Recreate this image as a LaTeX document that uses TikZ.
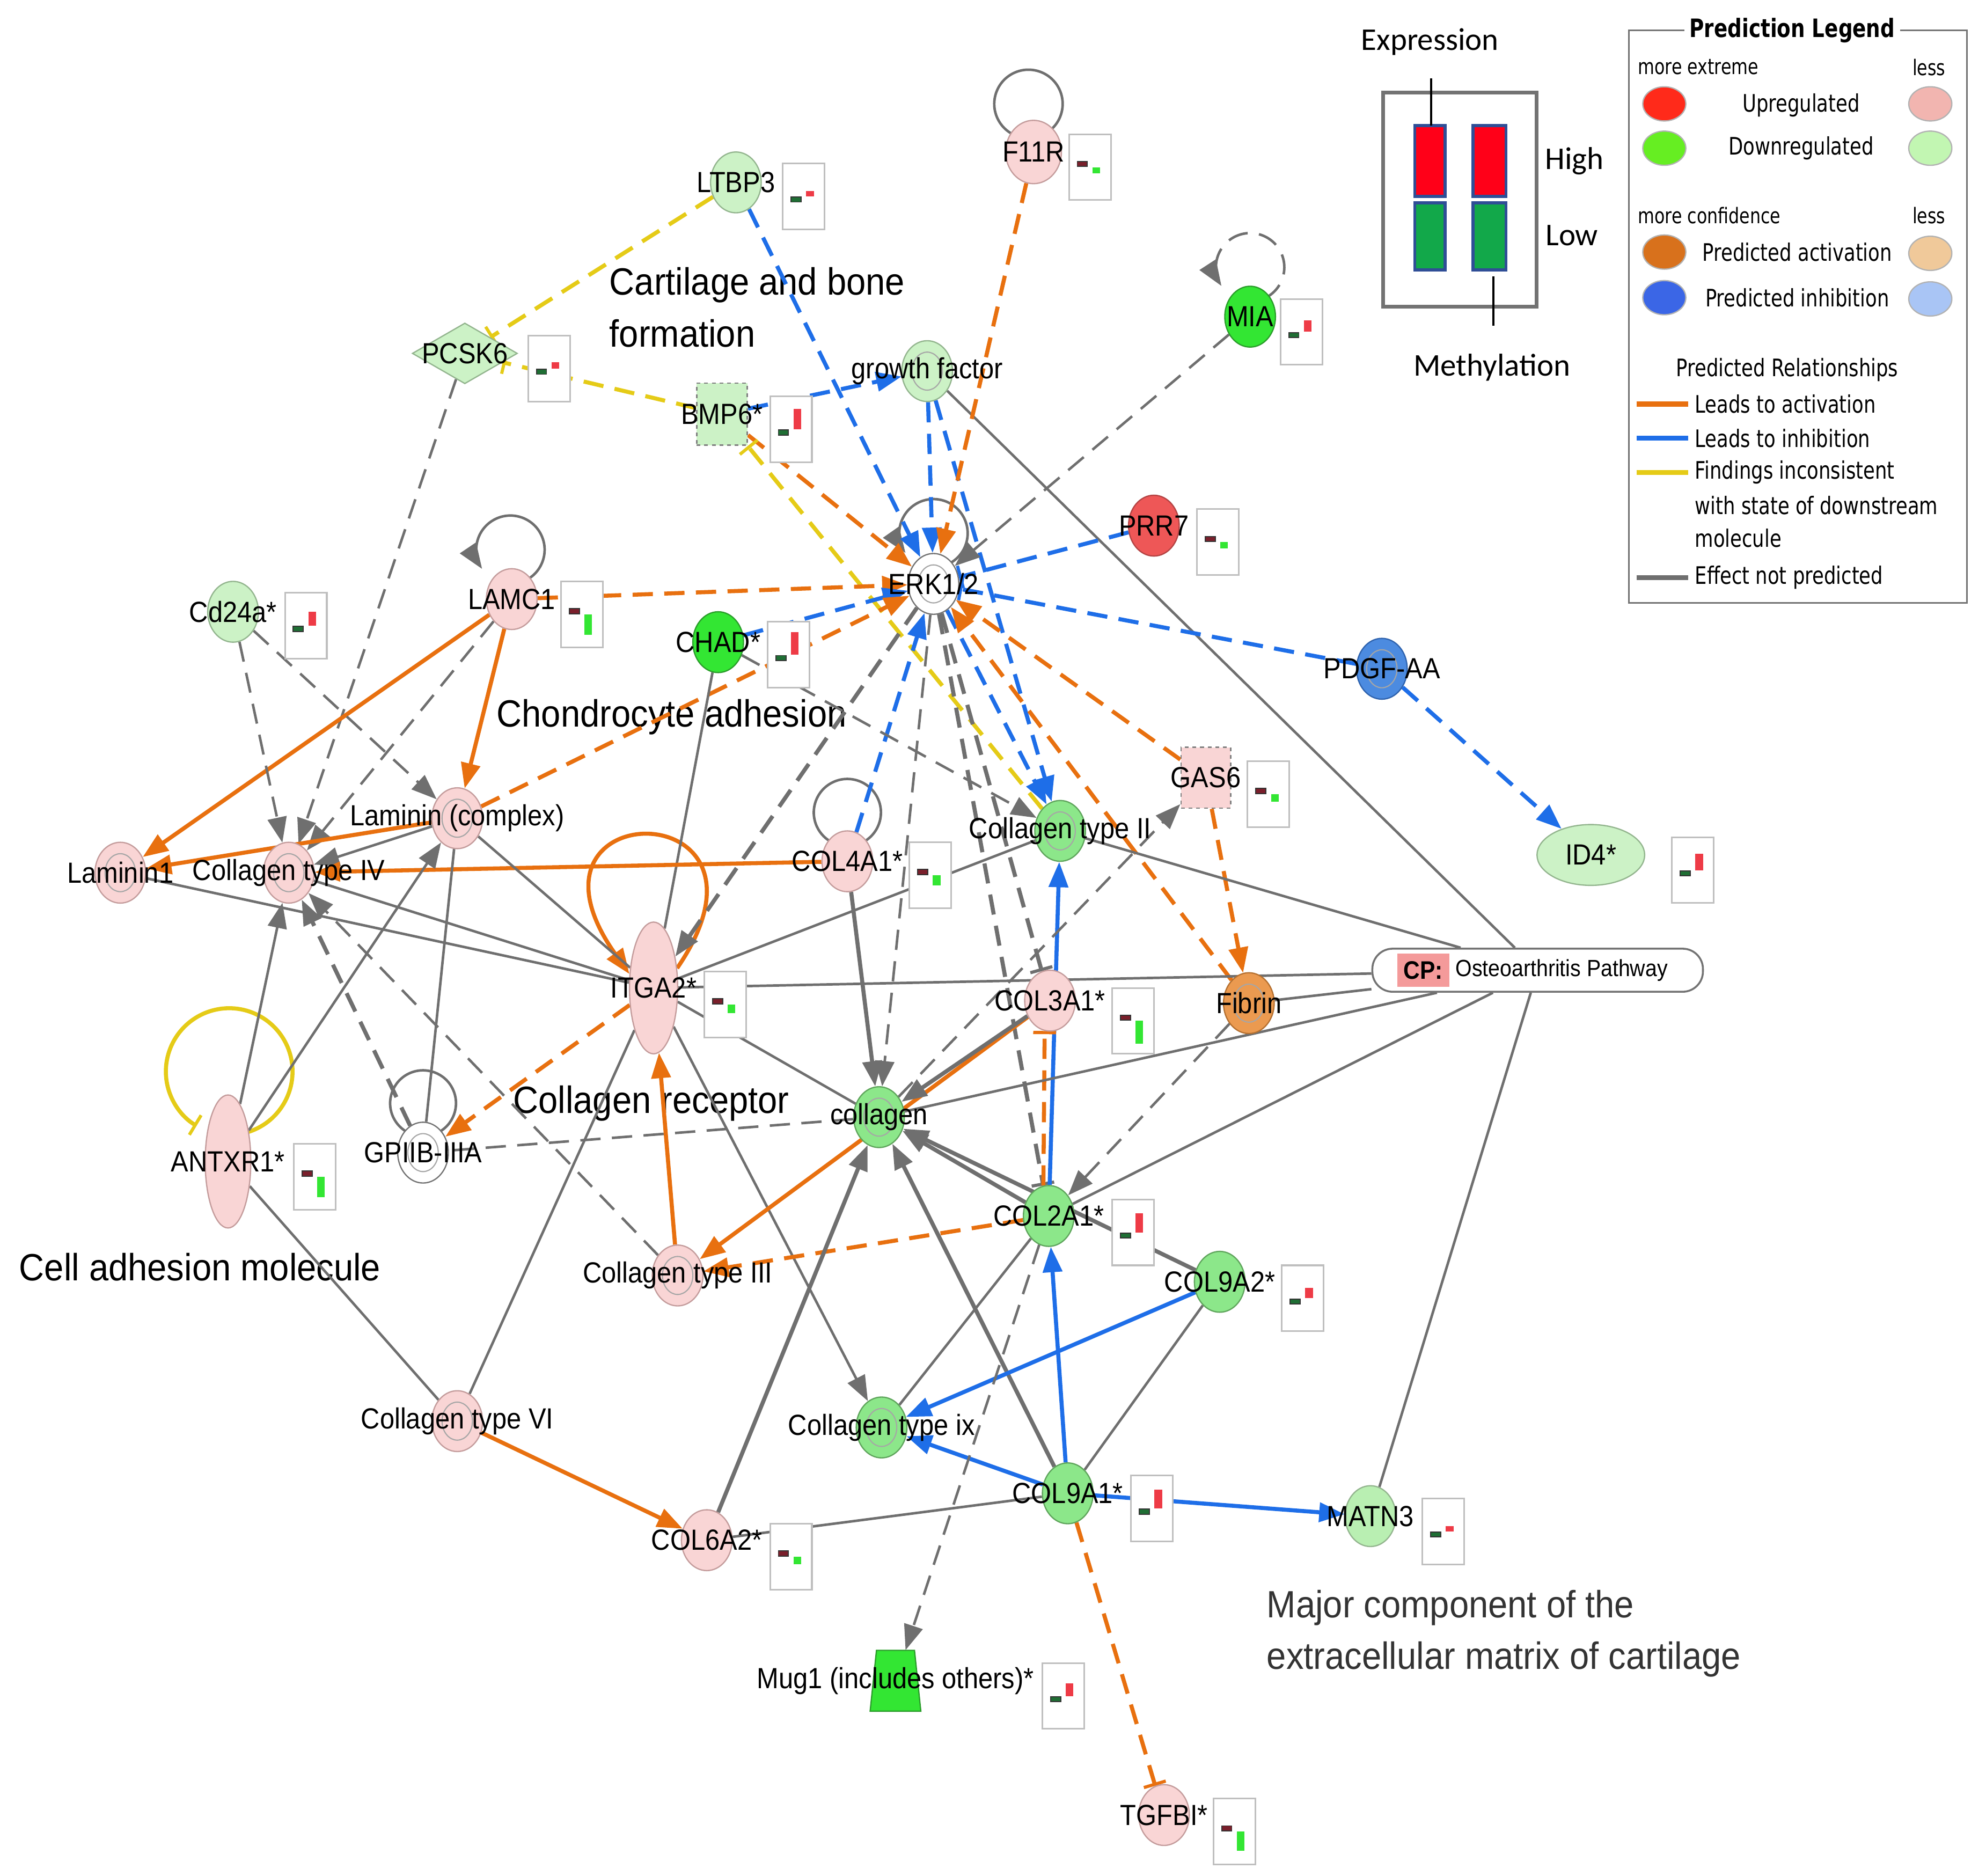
\documentclass[tikz,border=0pt]{standalone}
\usepackage{fontspec}
\setmainfont{Liberation Sans}
\newfontfamily\nfont[FakeStretch=0.9]{Liberation Sans}
\newfontfamily\gfont[FakeStretch=0.92]{Liberation Sans}
\newfontfamily\lfont[FakeStretch=0.79]{DejaVu Sans}
\newfontfamily\cfont{Carlito}
\usetikzlibrary{shapes.geometric,arrows.meta}
\pgfdeclarelayer{back}
\pgfdeclarelayer{edges}
\pgfsetlayers{back,edges,main}
\definecolor{pk}{HTML}{F9D5D5}
\definecolor{pkb}{HTML}{C49C9C}
\definecolor{lg}{HTML}{CCF2C6}
\definecolor{lg2}{HTML}{B9EFB2}
\definecolor{lgb}{HTML}{93B58E}
\definecolor{mg}{HTML}{8CE78A}
\definecolor{mgb}{HTML}{5FA55C}
\definecolor{bgr}{HTML}{33E633}
\definecolor{bgrb}{HTML}{2A9E2A}
\definecolor{rd}{HTML}{EE5757}
\definecolor{rdb}{HTML}{B44444}
\definecolor{bl}{HTML}{4C8BE0}
\definecolor{blb}{HTML}{2F63AE}
\definecolor{orf}{HTML}{EB9A50}
\definecolor{orb}{HTML}{B57030}
\definecolor{eo}{HTML}{E8700F}
\definecolor{eb}{HTML}{1E6EE8}
\definecolor{ey}{HTML}{E5CB17}
\definecolor{eg}{HTML}{6F6F6F}
\definecolor{cpk}{HTML}{F49A9A}
\definecolor{dgr}{HTML}{1F6E34}
\definecolor{drd}{HTML}{7A1F2B}
\definecolor{rbar}{HTML}{EE3B46}
\definecolor{gbar}{HTML}{33E633}
\definecolor{lR}{HTML}{FF2A1A}
\definecolor{lRl}{HTML}{F2B5B0}
\definecolor{lG}{HTML}{66EE22}
\definecolor{lGl}{HTML}{C2F6B2}
\definecolor{lO}{HTML}{D8711C}
\definecolor{lOl}{HTML}{F0C99A}
\definecolor{lB}{HTML}{3B66E6}
\definecolor{lBl}{HTML}{A9C5F5}
\definecolor{xr}{HTML}{FF0018}
\definecolor{xg}{HTML}{12A84A}
\definecolor{xb}{HTML}{2F4E96}
\tikzset{
  every node/.style={inner sep=0pt},
  nd/.style 2 args={ellipse, minimum width=40pt, minimum height=48pt, fill=#1, draw=#2, line width=1pt},
  pkn/.style={nd={pk}{pkb}},
  lgn/.style={nd={lg}{lgb}},
  mgn/.style={nd={mg}{mgb}},
  bgn/.style={nd={bgr}{bgrb}},
  cx/.style={path picture={\draw[line width=0.9pt, draw=black!35] (path picture bounding box.center) ellipse [x radius=12pt, y radius=15pt];}},
  lb/.style={font=\nfont\fontsize{23}{25}\selectfont, text=black},
  bigl/.style={font=\gfont\fontsize{30}{34}\selectfont, text=black},
  legt/.style={font=\lfont\fontsize{19}{21}\selectfont},
  legs/.style={font=\lfont\fontsize{17}{19}\selectfont},
  expt/.style={font=\cfont\fontsize{25}{27}\selectfont},
  arr/.style={-{Triangle[length=20pt,width=15pt]}},
  tbar/.style={-{Bar[width=18pt,line width=2.5pt]}},
  dsh/.style={dash pattern=on 16pt off 9pt},
  eO/.style={draw=eo, line width=3.2pt},
  eB/.style={draw=eb, line width=3.2pt},
  eY/.style={draw=ey, line width=3.2pt},
  eG/.style={draw=eg, line width=2pt},
  eGt/.style={draw=eg, line width=3.2pt},
  cbox/.style={draw=black!25, line width=1.3pt, fill=white},
  legel/.style={ellipse, minimum width=34pt, minimum height=27pt, draw=black!30, line width=1pt}
}
\newcommand{\chartU}[3]{%
  \draw[cbox] (#1,#2) rectangle ++(33,52);
  \draw[draw=black!80, fill=dgr, line width=0.8pt] (#1+6.5,#2+26.5) rectangle ++(8,4);
  \fill[rbar] (#1+18.5,#2+26) rectangle ++(6,-#3);
}
\newcommand{\chartD}[3]{%
  \draw[cbox] (#1,#2) rectangle ++(33,52);
  \draw[draw=black!80, fill=drd, line width=0.8pt] (#1+6.5,#2+21.5) rectangle ++(8,4);
  \fill[gbar] (#1+18.5,#2+26) rectangle ++(6,#3);
}
\begin{document}
\begin{tikzpicture}[x=1pt,y=-1pt]
\useasboundingbox (0,0) rectangle (1568,1481);
\begin{pgfonlayer}{back}
\fill[white] (0,0) rectangle (1568,1481);
\node[bigl, anchor=base west] (t1) at (481,233) {Cartilage and bone};
\node[bigl, anchor=base west] (t2) at (481,274) {formation};
\node[bigl, anchor=base west] (t3) at (392,574) {Chondrocyte adhesion};
\node[bigl, anchor=base west] (t4) at (405,879) {Collagen receptor};
\node[bigl, anchor=base west] (t5) at (15,1011) {Cell adhesion molecule};
\node[bigl, anchor=base west, text=black!80] (t6) at (1000,1277) {Major component of the};
\node[bigl, anchor=base west, text=black!80] (t7) at (1000,1318) {extracellular matrix of cartilage};
\end{pgfonlayer}

% ---------- nodes ----------
\node[lgn, label={[lb]center:LTBP3}] (ltbp3) at (581,144) {};
\node[pkn, minimum width=44pt, minimum height=50pt, label={[lb]center:F11R}] (f11r) at (816,120) {};
\node[bgn, label={[lb]center:MIA}] (mia) at (987,250) {};
\node[diamond, minimum width=83pt, minimum height=48pt, fill=lg, draw=lgb, line width=1pt, label={[lb]center:PCSK6}] (pcsk6) at (367,279) {};
\node[rectangle, minimum width=40pt, minimum height=49pt, fill=lg, draw=black!50, dashed, line width=1.2pt, label={[lb]center:BMP6*}] (bmp6) at (570,327) {};
\node[lgn, cx, label={[lb]center:growth factor}] (gf) at (732,293) {};
\node[nd={rd}{rdb}, label={[lb]center:PRR7}] (prr7) at (911,415) {};
\node[nd={white}{black!55}, cx, label={[lb]center:ERK1/2}] (erk) at (737,461) {};
\node[pkn, label={[lb]center:LAMC1}] (lamc1) at (404,473) {};
\node[lgn, label={[lb]center:Cd24a*}] (cd24a) at (184,483) {};
\node[bgn, label={[lb]center:CHAD*}] (chad) at (567,507) {};
\node[nd={bl}{blb}, cx, label={[lb]center:PDGF-AA}] (pdgf) at (1091,528) {};
\node[rectangle, minimum width=39pt, minimum height=48pt, fill=pk, draw=black!50, dashed, line width=1.2pt, label={[lb]center:GAS6}] (gas6) at (952,614) {};
\node[nd={lg}{lgb}, minimum width=85pt, minimum height=48pt, label={[lb]center:ID4*}] (id4) at (1256,675) {};
\node[pkn, cx, label={[lb]center:Laminin (complex)}] (lamcx) at (361,646) {};
\node[pkn, cx, label={[lb]center:Laminin1}] (lam1) at (95,689) {};
\node[pkn, cx, label={[lb]center:Collagen type IV}] (col4) at (228,689) {};
\node[pkn, label={[lb]center:COL4A1*}] (col4a1) at (669,680) {};
\node[mgn, cx, label={[lb]center:Collagen type II}] (col2) at (837,656) {};
\node[nd={pk}{pkb}, minimum width=38pt, minimum height=104pt, label={[lb]center:ITGA2*}] (itga2) at (516,780) {};
\node[pkn, label={[lb]center:COL3A1*}] (col3a1) at (829,790) {};
\node[nd={orf}{orb}, cx, label={[lb]center:Fibrin}] (fibrin) at (986,792) {};
\node[nd={pk}{pkb}, minimum width=36pt, minimum height=105pt, label={[lb]center:ANTXR1*}] (antxr1) at (180,917) {};
\node[nd={white}{black!55}, cx, label={[lb]center:GPIIB-IIIA}] (gp2b) at (334,910) {};
\node[mgn, cx, label={[lb]center:collagen}] (coll) at (694,882) {};
\node[mgn, label={[lb]center:COL2A1*}] (col2a1) at (828,960) {};
\node[pkn, cx, label={[lb]center:Collagen type III}] (col3) at (535,1007) {};
\node[mgn, label={[lb]center:COL9A2*}] (col9a2) at (963,1012) {};
\node[pkn, cx, label={[lb]center:Collagen type VI}] (col6) at (361,1122) {};
\node[mgn, cx, label={[lb]center:Collagen type ix}] (colix) at (696,1127) {};
\node[mgn, label={[lb]center:COL9A1*}] (col9a1) at (843,1179) {};
\node[nd={lg2}{lgb}, label={[lb]center:MATN3}] (matn3) at (1082,1197) {};
\node[pkn, label={[lb]center:COL6A2*}] (col6a2) at (558,1216) {};
\node[minimum width=40pt, minimum height=48pt] (mug1) at (707,1327) {};
\filldraw[fill=bgr, draw=bgrb, line width=1pt] ([shift={(-15,-24)}]mug1.center) -- ++(30,0) -- ++(5,48) -- ++(-40,0) -- cycle;
\node[lb] (mug1l) at (707,1327) {Mug1 (includes others)*};
\node[pkn, label={[lb]center:TGFBI*}] (tgfbi) at (919,1433) {};

% CP node
\node[draw=black!55, line width=1.5pt, rounded corners=16pt, fill=white, minimum width=261pt, minimum height=34pt] (cp) at (1214,766) {};
\node[fill=cpk, minimum width=41pt, minimum height=26pt, anchor=west, font=\nfont\bfseries\fontsize{20}{22}\selectfont] (cptag) at (1103,766) {CP:};
\node[lb, anchor=west, font=\nfont\fontsize{18.5}{20}\selectfont] (cptext) at (1149,766) {Osteoarthritis Pathway};

% ---------- edges ----------
\begin{pgfonlayer}{edges}
% self loops
\draw[eG] ([shift={(7.4,-13.5)}]f11r.center) arc[start angle=-65, end angle=245, radius=27pt];
\draw[eG,dsh,arr] ([shift={(11.4,-14.5)}]mia.center) arc[start angle=-65, end angle=213, radius=27pt];
\draw[eG,arr] ([shift={(11.4,-15.5)}]erk.center) arc[start angle=-65, end angle=215, radius=27pt];
\draw[eG,arr] ([shift={(10.4,-14.5)}]lamc1.center) arc[start angle=-65, end angle=214, radius=27pt];
\draw[eG] ([shift={(11.2,-14.5)}]col4a1.center) arc[start angle=-65, end angle=245, radius=26.5pt];
\draw[eG] ([shift={(11,-15.4)}]gp2b.center) arc[start angle=-65, end angle=245, radius=26pt];
\draw[eY,tbar] ([shift={(13.9,-22.7)}]antxr1.center) arc[start angle=-75, end angle=239, radius=50pt];
\draw[eO,arr] (itga2.40) .. controls +(96,-140) and +(-102,-144) .. (itga2.150);
% top region
\draw[eB,dsh,arr] (ltbp3) -- (erk);
\draw[eY,dsh,tbar] (ltbp3) -- (pcsk6);
\draw[eY,dsh,tbar] (bmp6) -- (pcsk6);
\draw[eG,dsh,arr] (pcsk6) -- (col4);
\draw[eB,dsh,arr] (bmp6) -- (gf);
\draw[eO,dsh,arr] (bmp6) -- (erk);
\draw[eY,dsh,tbar] (col2) -- (bmp6);
\draw[eB,dsh,arr] (gf) -- (erk);
\draw[eB,dsh,arr] (gf) -- (col2);
\draw[eG] (gf) -- (cp);
\draw[eO,dsh,arr] (f11r) -- (erk);
\draw[eG,dsh,arr] (mia) -- (erk);
\draw[eB,dsh,tbar] (prr7) -- (erk);
\draw[eB,dsh,tbar] (pdgf) -- (erk);
\draw[eB,dsh,arr] (pdgf) -- (id4);
\draw[eO,dsh,arr] (lamc1) -- (erk);
\draw[eB,dsh,arr] (chad) -- (erk);
\draw[eO,dsh,arr] (lamcx) -- (erk);
\draw[eGt,dsh,arr] (erk) -- (itga2);
\draw[eG,dsh,arr] (erk) -- (coll);
\draw[eB,dsh,arr] (erk) -- (col2);
\draw[eO,dsh,arr] (gas6) -- (erk);
\draw[eO,dsh,arr] (fibrin) -- (erk);
\draw[eGt,dsh,tbar] (erk) -- (col3a1);
\draw[eGt,dsh,tbar] (erk) -- (col2a1);
\draw[eB,dsh,arr] (col4a1) -- (erk);
\draw[eG,dsh,arr] (chad) -- (col2);
\draw[eG] (chad) -- (itga2);
% left region
\draw[eO,arr] (lamc1) -- (lam1);
\draw[eO,arr] (lamc1) -- (lamcx);
\draw[eG,dsh,arr] (lamc1) -- (col4);
\draw[eG,dsh,arr] (cd24a) -- (col4);
\draw[eG,dsh,arr] (cd24a) -- (lamcx);
\draw[eO,arr] (lamcx) -- (lam1);
\draw[eG,arr] (lamcx) -- (col4);
\draw[eO,arr] (col4a1) -- (col4);
\draw[eG] (lam1) -- (itga2);
\draw[eG] (col4) -- (itga2);
\draw[eG] (lamcx) -- (itga2);
\draw[eG,arr] (antxr1) -- (col4);
\draw[eG,arr] (antxr1) -- (lamcx);
\draw[eG] (antxr1) -- (col6);
\draw[eG] (gp2b) -- (lamcx);
\draw[eGt,dsh,arr] (gp2b) -- (col4);
\draw[eO,dsh,arr] (itga2) -- (gp2b);
\draw[eG,dsh] (coll) -- (gp2b);
\draw[eG,dsh,arr] (col3) -- (col4);
\draw[eG] (col6) -- (itga2);
\draw[eO,arr] (col6) -- (col6a2);
% centre
\draw[eG] (itga2) -- (cp);
\draw[eG,arr] (itga2) -- (colix);
\draw[eG] (itga2) -- (coll);
\draw[eG] (itga2) -- (col2);
\draw[eO,arr] (col3) -- (itga2);
\draw[eO,arr] (col3a1) -- (col3);
\draw[eO,dsh,arr] (col2a1) -- (col3);
\draw[eGt,arr] (col4a1) -- (coll);
\draw[eGt,arr] (col3a1) -- (coll);
\draw[eGt,arr] (col2a1) -- (coll);
\draw[eGt,arr] (col9a2) -- (coll);
\draw[eGt,arr] (col9a1) -- (coll);
\draw[eGt,arr] (col6a2) -- (coll);
\draw[eG] (colix) -- (col2a1);
\draw[eB,arr] (col9a2) -- (colix);
\draw[eB,arr] (col9a1) -- (colix);
\draw[eB,arr] (col9a1) -- (col2a1);
\draw[eB,arr] (col9a1) -- (matn3);
\draw[eG] (col9a1) -- (col9a2);
\draw[eG] (col9a1) -- (col6a2);
\draw[eO,dsh,tbar] (col9a1) -- (tgfbi);
\draw[eG,dsh,arr] (col2a1) -- (mug1);
\draw[eB,arr] (col2a1) -- (col2);
\draw[eO,dsh,tbar] (col2a1.100) -- (col3a1.260);
\draw[eO,dsh,arr] (gas6) -- (fibrin);
\draw[eG,dsh,arr] (coll) -- (gas6);
\draw[eG,dsh,arr] (fibrin) -- (col2a1);
\draw[eG] (cp) -- (col2a1);
\draw[eG] (cp) -- (coll);
\draw[eG] (cp) -- (fibrin);
\draw[eG] (cp) -- (col2);
\draw[eG] (cp) -- (matn3);
\end{pgfonlayer}

% ---------- mini charts ----------
\chartU{618}{129}{4}
\chartD{844}{106}{5}
\chartU{417}{265}{5}
\chartU{608}{313}{16}
\chartU{1011}{236}{9}
\chartD{945}{402}{5}
\chartD{443}{459}{16}
\chartU{225}{468}{11}
\chartU{606}{491}{18}
\chartD{985}{601}{6}
\chartU{1320}{661}{13}
\chartD{718}{665}{8}
\chartD{556}{767}{7}
\chartD{878}{780}{18}
\chartD{232}{903}{16}
\chartU{878}{947}{15}
\chartU{1012}{999}{8}
\chartU{893}{1165}{15}
\chartU{1123}{1183}{4}
\chartD{608}{1203}{6}
\chartU{823}{1313}{10}
\chartD{958}{1420}{15}

% ---------- expression / methylation key ----------
\node[expt] (expr) at (1129,33) {Expression};
\draw[black!55, line width=3pt] (1092,73) rectangle (1213,242);
\draw[xb, fill=xr, line width=2.5pt] (1117,99) rectangle (1141,155);
\draw[xb, fill=xr, line width=2.5pt] (1163,99) rectangle (1189,155);
\draw[xb, fill=xg, line width=2.5pt] (1117,160) rectangle (1141,213);
\draw[xb, fill=xg, line width=2.5pt] (1163,160) rectangle (1189,213);
\draw[black, line width=1.5pt] (1130,62) -- (1130,99);
\draw[black, line width=1.5pt] (1179,218) -- (1179,257);
\node[expt] (hi) at (1243,127) {High};
\node[expt] (lo) at (1241,186) {Low};
\node[expt] (meth) at (1178,290) {Methylation};

% ---------- prediction legend ----------
\draw[black!55, line width=1.5pt] (1286,24) rectangle (1553,476);
\node[font=\lfont\bfseries\fontsize{20}{22}\selectfont, fill=white, inner xsep=4pt, inner ysep=2pt] (lgt) at (1415,24) {Prediction Legend};
\node[legs, anchor=west] (lm1) at (1293,53) {more extreme};
\node[legs] (lm2) at (1523,53) {less};
\node[legel, fill=lR] (le1) at (1314,82) {};
\node[legt] (lu) at (1422,83) {Upregulated};
\node[legel, fill=lRl] (le2) at (1524,82) {};
\node[legel, fill=lG] (le3) at (1314,117) {};
\node[legt] (ld) at (1422,117) {Downregulated};
\node[legel, fill=lGl] (le4) at (1524,117) {};
\node[legs, anchor=west] (lm3) at (1293,170) {more confidence};
\node[legs] (lm4) at (1523,170) {less};
\node[legel, fill=lO] (le5) at (1314,199) {};
\node[legt] (lpa) at (1419,199) {Predicted activation};
\node[legel, fill=lOl] (le6) at (1524,200) {};
\node[legel, fill=lB] (le7) at (1314,235) {};
\node[legt] (lpi) at (1419,235) {Predicted inhibition};
\node[legel, fill=lBl] (le8) at (1524,236) {};
\node[legt] (lpr) at (1411,292) {Predicted Relationships};
\draw[draw=eo, line width=4pt] (1292,319) -- (1333,319);
\node[legt, anchor=west] (lr1) at (1338,319) {Leads to activation};
\draw[draw=eb, line width=4pt] (1292,346) -- (1333,346);
\node[legt, anchor=west] (lr2) at (1338,346) {Leads to inhibition};
\draw[draw=ey, line width=4pt] (1292,373) -- (1333,373);
\node[legt, anchor=west] (lr3) at (1338,373) {Findings inconsistent};
\node[legt, anchor=west] (lr4) at (1338,399) {with state of downstream};
\node[legt, anchor=west] (lr5) at (1338,425) {molecule};
\draw[draw=eg, line width=4pt] (1292,456) -- (1333,456);
\node[legt, anchor=west] (lr6) at (1338,456) {Effect not predicted};
\end{tikzpicture}
\end{document}
